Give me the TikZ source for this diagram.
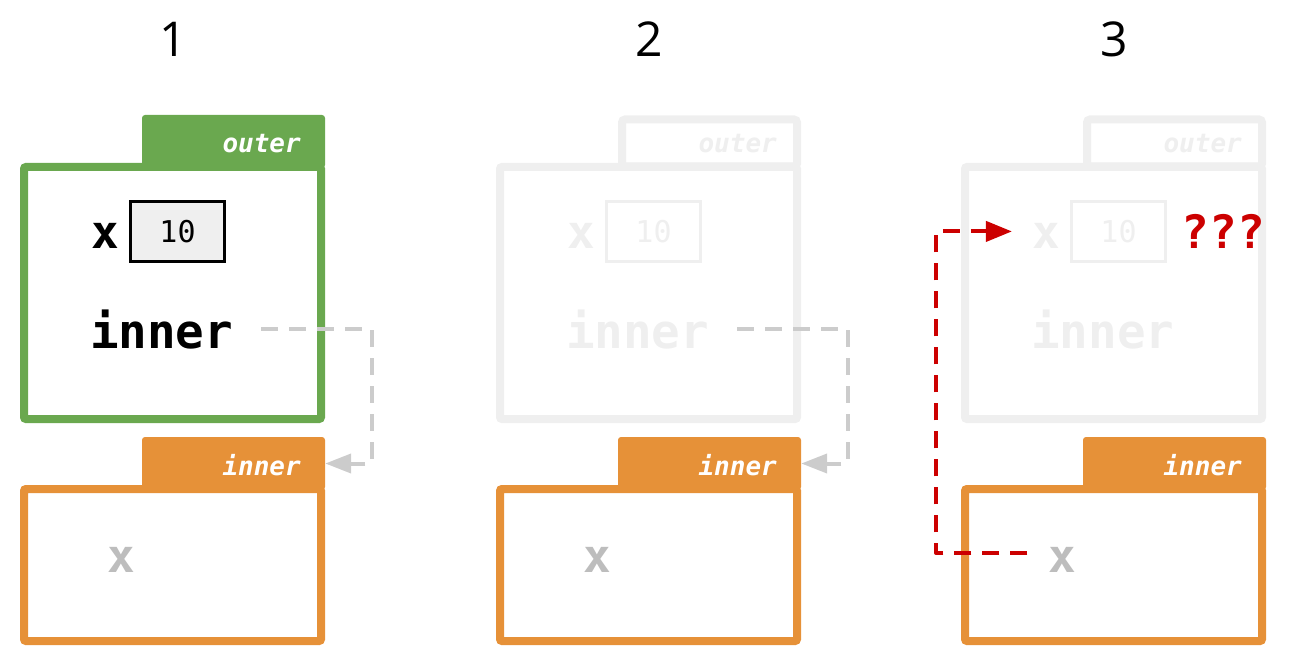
\documentclass[tikz,border=0pt]{standalone}
\usepackage{fontspec}
\setmonofont{DejaVu Sans Mono}
\newfontfamily\titlefont{Open Sans}
\usetikzlibrary{arrows.meta}
\definecolor{framegreen}{HTML}{6AA84F}
\definecolor{frameorange}{HTML}{E69138}
\definecolor{faded}{HTML}{EFEFEF}
\definecolor{boxfill}{HTML}{EFEFEF}
\definecolor{shadowx}{HTML}{BDBDBD}
\definecolor{linkgray}{HTML}{CCCCCC}
\definecolor{lookupred}{HTML}{CC0000}

\begin{document}
\begin{tikzpicture}[x=1pt, y=-1pt,
    title/.style={font=\titlefont\fontsize{48}{48}\selectfont, anchor=base, inner sep=0pt},
    frame/.style={line width=8pt, rounded corners=2pt},
    tab/.style={minimum width=183pt, minimum height=53pt, inner sep=0pt, rounded corners=3pt},
    tablabel/.style={font=\ttfamily\bfseries\itshape\fontsize{26}{26}\selectfont, text=white, anchor=base east, inner sep=0pt},
    varname/.style={font=\ttfamily\bfseries\fontsize{46}{46}\selectfont, anchor=base, inner sep=0pt},
    bigname/.style={varname, font=\ttfamily\bfseries\fontsize{47.5}{47.5}\selectfont, anchor=base west},
    valbox/.style={draw, line width=3pt, fill=boxfill, minimum width=94pt, minimum height=60pt, inner sep=0pt, font=\ttfamily\fontsize{30}{30}\selectfont},
    link/.style={line width=4pt, dash pattern=on 17pt off 11pt, line join=round},
  ]

    % 1. Canvas
    \useasboundingbox (0,0) rectangle (1292,671);

    % 2. Titles and the inner frame, the same in all three panels
    \foreach \d/\n in {0/1, 476/2, 941/3} {
        \node[title] (h\n) at (173+\d,57) {\n};
        \node[tab, fill=frameorange] (ti\n) at (233.5+\d,463.5) {};
        \draw[frame, frameorange] (24+\d,489) rectangle (321+\d,641);
        \node[tablabel] at (301+\d,475) {inner};
        \node[varname, text=shadowx] (gx\n) at (121.5+\d,572) {x};
    }

    % 3. Outer frame of panel 1
    \node[tab, fill=framegreen] (to1) at (233.5,141.5) {};
    \draw[frame, framegreen] (24,167) rectangle (321,419);
    \node[tablabel] at (301,153) {outer};
    \node[varname] (x1) at (105,248) {x};
    \node[valbox] (v1) at (177.5,231.5) {10};
    \node[bigname] (in1) at (90,348) {inner};

    % 4. Faded outer frames of panels 2 and 3
    \foreach \d/\n in {476/2, 941/3} {
        \node[tab, draw=faded, fill=white, line width=8pt, minimum width=175pt, minimum height=47pt] (to\n) at (233.5+\d,143) {};
        \draw[frame, faded] (24+\d,167) rectangle (321+\d,419);
        \node[tablabel, text=faded] at (301+\d,153) {outer};
        \node[varname, text=faded] (x\n) at (105+\d,248) {x};
        \node[valbox, draw=faded, fill=white, text=faded] (v\n) at (177.5+\d,231.5) {10};
        \node[bigname, text=faded] (in\n) at (90+\d,348) {inner};
    }

    % 5. The ??? in panel 3
    \node[varname, text=lookupred] (q3) at (1223.5,248) {???};

    % 6. Links: inner points to its frame, x looks up the outer x
    \foreach \n in {1,2} {
        \draw[link, linkgray, -{Triangle[length=26pt, width=19pt]}]
            ([xshift=28pt]in\n.east) -| ([xshift=47pt]ti\n.east) -- (ti\n.east);
    }
    \draw[link, lookupred, -{Triangle[length=26pt, width=20pt]}]
        ([xshift=-21pt, yshift=6.5pt]gx3.west) -| ([xshift=-96pt, yshift=4pt]x3.west)
        -- ([xshift=-20pt, yshift=4pt]x3.west);

\end{tikzpicture}
\end{document}
